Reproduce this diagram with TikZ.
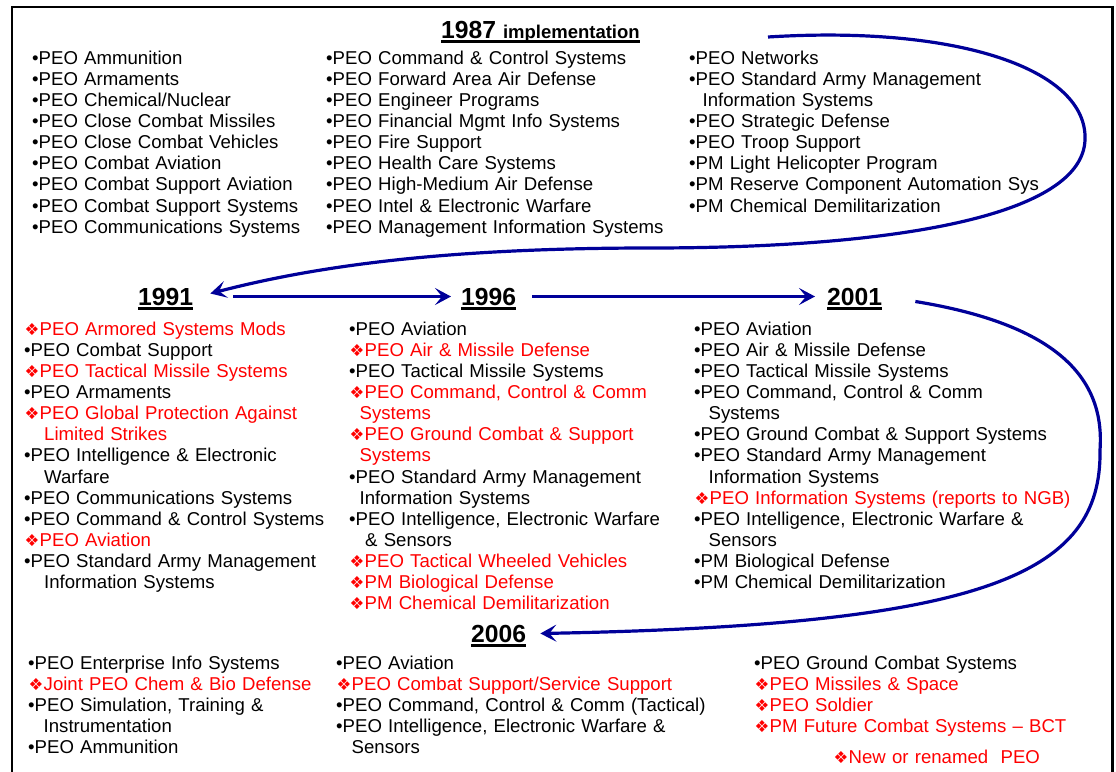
\documentclass[tikz,border=0pt]{standalone}
\usepackage{fontspec}
\setmainfont{Liberation Sans}
\newfontfamily\dingfont{DejaVu Sans}
\usetikzlibrary{arrows.meta}

\definecolor{peonavy}{RGB}{0,0,153}
\definecolor{peored}{RGB}{255,0,0}

\newcommand{\ob}{•}
\newcommand{\nb}{\makebox[15.5pt][l]{\hspace{0.5pt}{\dingfont\fontsize{16.5}{16.5}\selectfont ❖}}}
\newcommand{\rd}[1]{\textcolor{peored}{#1}}
\newcommand{\hang}[1]{\hspace*{#1pt}}

\tikzset{
  yr/.style={anchor=base west, inner sep=0pt, font=\bfseries\fontsize{24.7}{27}\selectfont},
  col/.style={anchor=base west, inner sep=0pt, text width=430pt, align=left,
    font=\fontsize{18.6}{21.15}\selectfont},
  uline/.style={line width=2.2pt},
  arr/.style={peonavy, line width=3.2pt, -{Stealth[length=16pt,width=17pt,inset=7pt]}}
}

\begin{document}
\begin{tikzpicture}[x=1pt,y=-1pt]
  \useasboundingbox (0,0) rectangle (1116,771);
  % frame
  \draw[line width=2.6pt] (12,790) -- (12,7) -- (1112.5,7) -- (1112.5,790);

  % year headings
  \node[yr] (y87) at (441,38) {1987 {\fontsize{18.5}{20}\selectfont implementation}};
  \node[yr] (y91) at (138,305) {1991};
  \node[yr] (y96) at (461,305) {1996};
  \node[yr] (y01) at (827,305) {2001};
  \node[yr] (y06) at (471,642) {2006};
  \foreach \y in {y87,y91,y96,y01,y06}
    \draw[uline] ([yshift=-3.5pt]\y.base west) -- ([yshift=-3.5pt]\y.base east);

  % 1987
  \node[col] (c87a) at (32,64) {%
    \ob PEO Ammunition\\
    \ob PEO Armaments\\
    \ob PEO Chemical/Nuclear\\
    \ob PEO Close Combat Missiles\\
    \ob PEO Close Combat Vehicles\\
    \ob PEO Combat Aviation\\
    \ob PEO Combat Support Aviation\\
    \ob PEO Combat Support Systems\\
    \ob PEO Communications Systems};
  \node[col] (c87b) at (326,64) {%
    \ob PEO Command \& Control Systems\\
    \ob PEO Forward Area Air Defense\\
    \ob PEO Engineer Programs\\
    \ob PEO Financial Mgmt Info Systems\\
    \ob PEO Fire Support\\
    \ob PEO Health Care Systems\\
    \ob PEO High-Medium Air Defense\\
    \ob PEO Intel \& Electronic Warfare\\
    \ob PEO Management Information Systems};
  \node[col] (c87c) at (689,64) {%
    \ob PEO Networks\\
    \ob PEO Standard Army Management\\
    \hang{13.5}Information Systems\\
    \ob PEO Strategic Defense\\
    \ob PEO Troop Support\\
    \ob PM Light Helicopter Program\\
    \ob PM Reserve Component Automation Sys\\
    \ob PM Chemical Demilitarization};

  % 1991
  \node[col] (c91) at (24,335) {%
    \rd{\nb PEO Armored Systems Mods}\\
    \ob PEO Combat Support\\
    \rd{\nb PEO Tactical Missile Systems}\\
    \ob PEO Armaments\\
    \rd{\nb PEO Global Protection Against}\\
    \rd{\hang{20}Limited Strikes}\\
    \ob PEO Intelligence \& Electronic\\
    \hang{20}Warfare\\
    \ob PEO Communications Systems\\
    \ob PEO Command \& Control Systems\\
    \rd{\nb PEO Aviation}\\
    \ob PEO Standard Army Management\\
    \hang{20}Information Systems};

  % 1996
  \node[col] (c96) at (349,335) {%
    \ob PEO Aviation\\
    \rd{\nb PEO Air \& Missile Defense}\\
    \ob PEO Tactical Missile Systems\\
    \rd{\nb PEO Command, Control \& Comm}\\
    \rd{\hang{10.5}Systems}\\
    \rd{\nb PEO Ground Combat \& Support}\\
    \rd{\hang{10.5}Systems}\\
    \ob PEO Standard Army Management\\
    \hang{10.5}Information Systems\\
    \ob PEO Intelligence, Electronic Warfare\\
    \hang{16}\& Sensors\\
    \rd{\nb PEO Tactical Wheeled Vehicles}\\
    \rd{\nb PM Biological Defense}\\
    \rd{\nb PM Chemical Demilitarization}};

  % 2001
  \node[col] (c01) at (694,335) {%
    \ob PEO Aviation\\
    \ob PEO Air \& Missile Defense\\
    \ob PEO Tactical Missile Systems\\
    \ob PEO Command, Control \& Comm\\
    \hang{14.5}Systems\\
    \ob PEO Ground Combat \& Support Systems\\
    \ob PEO Standard Army Management\\
    \hang{14.5}Information Systems\\
    \rd{\nb PEO Information Systems (reports to NGB)}\\
    \ob PEO Intelligence, Electronic Warfare \&\\
    \hang{14.5}Sensors\\
    \ob PM Biological Defense\\
    \ob PM Chemical Demilitarization};

  % 2006
  \node[col] (c06a) at (28,669) {%
    \ob PEO Enterprise Info Systems\\
    \rd{\nb Joint PEO Chem \& Bio Defense}\\
    \ob PEO Simulation, Training \&\\
    \hang{15.5}Instrumentation\\
    \ob PEO Ammunition};
  \node[col] (c06b) at (336,669) {%
    \ob PEO Aviation\\
    \rd{\nb PEO Combat Support/Service Support}\\
    \ob PEO Command, Control \& Comm (Tactical)\\
    \ob PEO Intelligence, Electronic Warfare \&\\
    \hang{15.5}Sensors};
  \node[col] (c06c) at (754,669) {%
    \ob PEO Ground Combat Systems\\
    \rd{\nb PEO Missiles \& Space}\\
    \rd{\nb PEO Soldier}\\
    \rd{\nb PM Future Combat Systems – BCT}};

  \node[col, text=peored] (legend) at (833,763) {\nb New or renamed\ \ PEO};

  % transitions
  \coordinate (lp) at (768,37);
  \draw[arr] (lp) .. controls (960,25) and (1088,70) .. (1085,140)
    .. controls (1082,215) and (900,248) .. (650,248)
    .. controls (450,248) and (320,265) .. ([xshift=17pt,yshift=3pt]y91.east);
  \draw[arr] ([xshift=40pt]y91.east) -- ([xshift=-10pt]y96.west);
  \draw[arr] ([xshift=16pt]y96.east) -- ([xshift=-12pt]y01.west);
  \draw[arr] ([xshift=33pt,yshift=-5pt]y01.east) .. controls (1060,325) and (1105,380) .. (1100,450)
    .. controls (1102,575) and (985,625) .. ([xshift=14pt]y06.east);
\end{tikzpicture}
\end{document}
